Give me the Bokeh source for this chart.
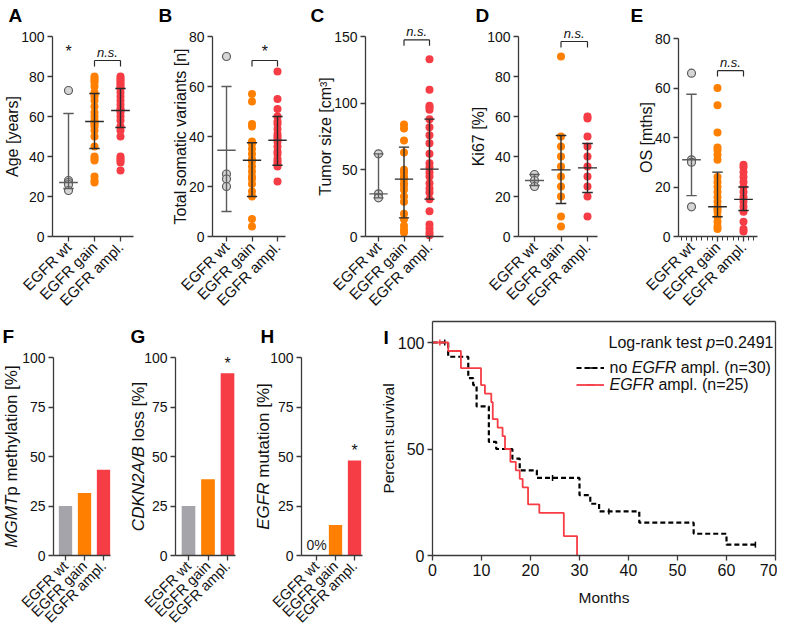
import math
from bokeh.plotting import figure
from bokeh.layouts import row, column
from bokeh.models import Range1d, FixedTicker, Label, Legend, LegendItem, LinearAxis
from bokeh.embed import file_html
from bokeh.resources import INLINE

FONT = "Liberation Sans"
GROUP_LABELS = ["EGFR wt", "EGFR gain", "EGFR ampl."]
CATS = [1, 2, 3]

C_WT_FILL = "#d6d6d6"
C_WT_LINE = "#5c5c5c"
C_GAIN = "#ff8000"
C_AMPL = "#f63c44"
C_BAR_WT = "#a4a4aa"
C_AX = "#3a3a3a"
C_TXT = "#111111"

# ---------------- data ----------------
# A: age
age_wt = [73, 28, 27, 26, 23]
age_gain = [80, 79, 78, 77, 75, 72, 71, 70, 68, 65, 62, 60, 58, 57, 56, 55, 53, 50, 45, 40, 39, 38, 30, 28, 27]
age_ampl = [80, 79, 78, 77, 76, 75, 74, 72, 70, 68, 66, 64, 63, 62, 60, 58, 55, 53, 50, 40, 39, 38, 37, 33]
age_mid = [27, 57.5, 63]
age_lo = [24, 44, 54.5]
age_hi = [61.5, 71.5, 74]

# B: total somatic variants
var_wt = [72, 25, 23, 20]
var_gain = [57, 54, 45, 44, 38, 37, 35, 33, 31, 30, 28, 26, 24, 23, 21, 18, 16, 7, 4]
var_ampl = [66, 55, 51, 48, 46, 45, 43, 41, 40, 39, 38, 36, 34, 33, 31, 30, 29, 28, 22]
var_mid = [34.5, 30.5, 38.5]
var_lo = [10, 16, 28.5]
var_hi = [60, 37.5, 48]

# C: tumor size
size_wt = [62, 32, 29]
size_gain = [84, 81, 72, 63, 50, 48, 45, 43, 40, 38, 35, 30, 26, 17, 13, 8, 5, 3]
size_ampl = [133, 110, 98, 97, 95, 88, 82, 76, 70, 62, 55, 52, 48, 45, 40, 36, 33, 28, 19, 9, 6, 3, 1]
size_mid = [32, 43, 50.5]
size_lo = [29, 14, 28]
size_hi = [62, 67, 88]

# D: Ki67
ki_wt = [31, 28, 25]
ki_gain = [90, 50, 45, 40, 35, 30, 25, 20, 10, 5]
ki_ampl = [60, 59, 50, 45, 40, 35, 30, 25, 20, 10]
ki_mid = [28, 33.3, 34.3]
ki_lo = [25.5, 16.5, 22]
ki_hi = [31, 50.5, 46.5]

# E: OS
os_wt = [66, 31, 30, 12]
os_gain = [60, 53, 42, 36, 35, 33, 31, 24, 22, 20, 18, 16, 14, 12, 11, 10, 8, 6, 4, 3]
os_ampl = [29, 28, 26, 24, 22, 20, 18, 16, 14, 12, 10, 6, 3, 2]
os_mid = [31, 12, 15]
os_lo = [16.5, 8, 10.5]
os_hi = [57.5, 26, 20]

# F-H: percentages
mgmt_pct = [25, 31.6, 43.3]
cdkn_pct = [25, 38.5, 92]
mut_pct = [0, 15.4, 48]

# I: Kaplan-Meier (months, percent survival)
no_ampl_t = [0, 3.2, 7.3, 8.3, 9.0, 11.5, 13.0, 16.3, 17.8, 21.3, 30.0, 32.2, 34.0, 42.2, 53.3, 60.0, 65.9]
no_ampl_s = [100, 93.3, 83.3, 80.0, 70.0, 53.3, 50.0, 45.5, 40.0, 36.4, 28.3, 24.3, 20.7, 15.4, 10.2, 5.1, 5.1]
no_ampl_cens_t = [2.5, 24.5, 36.0, 65.9]
no_ampl_cens_s = [100, 36.4, 20.7, 5.1]
ampl_t = [0, 3.2, 5.8, 9.9, 10.7, 12.0, 12.3, 13.3, 14.3, 14.8, 15.9, 17.0, 17.8, 18.4, 19.5, 21.8, 26.8, 29.5]
ampl_s = [100, 96, 88, 80, 76, 72, 64, 60, 56, 50, 44, 40, 36, 32, 24, 20, 9.1, 0]
ampl_cens_t = [1.5]
ampl_cens_s = [100]

# texts with italic gene names: (text, italic?)
F_YLABEL = [("MGMT", True), ("p methylation [%]", False)]
G_YLABEL = [("CDKN2A/B", True), (" loss [%]", False)]
H_YLABEL = [("EGFR", True), (" mutation [%]", False)]
LEG1 = [("no ", False), ("EGFR", True), (" ampl. (n=30)", False)]
LEG2 = [("EGFR", True), (" ampl. (n=25)", False)]
LOGRANK = [("Log-rank test ", False), ("p", True), ("=0.2491", False)]

TOP_H = 318
BOT_H = 308

# Arial / Liberation Sans advance widths (per 1000 em)
ADV = {" ": 278, "%": 889, "(": 333, ")": 333, "-": 333, ".": 278, "/": 278, "=": 584, "[": 278, "]": 278,
       "A": 667, "B": 667, "C": 722, "D": 722, "E": 667, "F": 611, "G": 778, "K": 667, "L": 556,
       "M": 833, "N": 722, "R": 722, "T": 611,
       "a": 556, "c": 500, "e": 556, "g": 556, "h": 556, "i": 222, "k": 500, "l": 222, "m": 833,
       "n": 556, "o": 556, "p": 556, "r": 333, "s": 500, "t": 278, "u": 556, "y": 500}


def text_w(s, size):
    return sum(ADV.get(c, 556) for c in s) / 1000.0 * size


def make_fig(W, H, xs, xe, ys, ye):
    p = figure(width=W, height=H, x_range=Range1d(xs, xe), y_range=Range1d(ys, ye),
               output_backend="svg", toolbar_location=None,
               min_border_left=0, min_border_right=0, min_border_top=0, min_border_bottom=0)
    p.outline_line_color = None
    p.grid.visible = False
    p.background_fill_color = None
    p.border_fill_color = None
    return p


def style_axis(ax, tick_size, label_size):
    ax.axis_line_color = C_AX
    ax.axis_line_width = 1.3
    ax.major_tick_line_color = C_AX
    ax.major_tick_line_width = 1.3
    ax.major_tick_out = 5
    ax.major_tick_in = 0
    ax.minor_tick_line_color = None
    ax.major_label_text_font = FONT
    ax.major_label_text_color = C_TXT
    ax.major_label_text_font_size = tick_size
    ax.axis_label_text_font = FONT
    ax.axis_label_text_font_style = "normal"
    ax.axis_label_text_color = C_TXT
    ax.axis_label_text_font_size = label_size
    ax.major_label_standoff = 3
    ax.axis_label_standoff = 4


def cat_xaxis(p, minor=False):
    if minor:
        p.xaxis.ticker = FixedTicker(ticks=CATS, minor_ticks=[0.6 + 0.2 * i for i in range(15)])
        p.xaxis.minor_tick_line_color = C_AX
        p.xaxis.minor_tick_out = 4
        p.xaxis.minor_tick_in = 0
    else:
        p.xaxis.ticker = FixedTicker(ticks=CATS)
    p.xaxis.major_label_overrides = {c: g for c, g in zip(CATS, GROUP_LABELS)}
    p.xaxis.major_label_orientation = math.pi / 4


def mixed_text(p, x, y, x_off, y_off, pieces, size, vertical=False, center=True):
    """Draw a run of text pieces (some italic) one after another."""
    total = sum(text_w(t, size) for t, _ in pieces)
    pos = -total / 2.0 if center else 0.0
    for t, ital in pieces:
        lead = len(t) - len(t.lstrip(" "))
        core = t.strip(" ")
        if core:
            shift = pos + text_w(" " * lead, size)
            kw = dict(x=x, y=y, text=core, text_font=FONT, text_font_size=f"{size}px",
                      text_font_style="italic" if ital else "normal", text_color=C_TXT,
                      text_align="left", text_baseline="middle")
            if vertical:
                kw.update(angle=math.pi / 2, x_offset=x_off, y_offset=y_off + shift)
            else:
                kw.update(x_offset=x_off + shift, y_offset=y_off)
            p.add_layout(Label(**kw))
        pos += text_w(t, size)


def letter(p, text, lx, ly):
    p.add_layout(Label(x=p.x_range.start, y=p.y_range.end, x_offset=lx, y_offset=-ly, text=text,
                       text_font=FONT, text_font_style="bold", text_font_size="19px",
                       text_baseline="top", text_align="left", text_color="#000000"))


def sig_label(p, x, y, text, italic):
    p.add_layout(Label(x=x, y=y, y_offset=1, text=text, text_font=FONT,
                       text_font_style="italic" if italic else "normal",
                       text_font_size="13px" if italic else "16px",
                       text_align="center", text_baseline="bottom", text_color=C_TXT))


def scatter_panel(let, let_x, ylabel, wt, gain, ampl, mid, lo, hi, ymax, ystep,
                  W, axis_px, cat1_px, sp, end_px, ytop_px, bracket, sig, wt_star=None, minor=False):
    H = TOP_H
    y0_px = 236
    sy = (y0_px - ytop_px) / ymax
    xs = 1 - cat1_px / sp
    xe = xs + W / sp
    ye = y0_px / sy
    ys = -(H - y0_px) / sy
    ax_x = 1 - (cat1_px - axis_px) / sp
    ax_end = 1 + (end_px - cat1_px) / sp
    p = make_fig(W, H, xs, xe, ys, ye)
    for ax in p.axis:
        style_axis(ax, "14px", "16px")
    p.xaxis.major_label_text_font_size = "15px"
    p.yaxis.axis_label_standoff = -3
    cat_xaxis(p, minor)
    p.yaxis.ticker = FixedTicker(ticks=list(range(0, ymax + 1, ystep)))
    p.yaxis.axis_label = ylabel
    p.yaxis.fixed_location = ax_x
    p.yaxis.bounds = (0, ymax)
    p.xaxis.fixed_location = 0
    p.xaxis.bounds = (ax_x, ax_end)

    p.scatter(x=[1] * len(wt), y=wt, size=8, fill_color=C_WT_FILL, line_color=C_WT_LINE, line_width=1.2)
    p.scatter(x=[2] * len(gain), y=gain, size=8, fill_color=C_GAIN, line_color=None)
    p.scatter(x=[3] * len(ampl), y=ampl, size=8, fill_color=C_AMPL, line_color=None)

    cols = [C_WT_LINE, "#2a2a2a", "#2a2a2a"]
    p.segment(x0=CATS, y0=lo, x1=CATS, y1=hi, line_color=cols, line_width=1.4)
    p.segment(x0=[c - 0.2 for c in CATS], y0=lo, x1=[c + 0.2 for c in CATS], y1=lo, line_color=cols, line_width=1.4)
    p.segment(x0=[c - 0.2 for c in CATS], y0=hi, x1=[c + 0.2 for c in CATS], y1=hi, line_color=cols, line_width=1.4)
    p.segment(x0=[c - 0.36 for c in CATS], y0=mid, x1=[c + 0.36 for c in CATS], y1=mid, line_color=cols, line_width=1.4)

    d = ymax * 0.03
    p.segment(x0=[2, 2, 3], y0=[bracket, bracket, bracket], x1=[3, 2, 3], y1=[bracket, bracket - d, bracket - d],
              line_color="#2a2a2a", line_width=1.2)
    sig_label(p, 2.5, bracket, sig, sig == "n.s.")
    if wt_star is not None:
        sig_label(p, 1, wt_star, "*", False)
    letter(p, let, let_x, 4)
    return p


def bar_panel(let, let_x, ylabel_pieces, label_dx, vals, W, axis_px, cat1_px, sp, end_px,
              star=None, zero_text=None):
    H = BOT_H
    y0_px = 237
    ytop_px = 39
    sy = (y0_px - ytop_px) / 100.0
    xs = 1 - cat1_px / sp
    xe = xs + W / sp
    ye = y0_px / sy
    ys = -(H - y0_px) / sy
    ax_x = 1 - (cat1_px - axis_px) / sp
    ax_end = 1 + (end_px - cat1_px) / sp
    p = make_fig(W, H, xs, xe, ys, ye)
    for ax in p.axis:
        style_axis(ax, "14px", "17px")
    p.xaxis.major_label_text_font_size = "14.5px"
    cat_xaxis(p)
    p.yaxis.ticker = FixedTicker(ticks=[0, 25, 50, 75, 100])
    p.yaxis.fixed_location = ax_x
    p.yaxis.bounds = (0, 100)
    p.xaxis.fixed_location = 0
    p.xaxis.bounds = (ax_x, ax_end)
    p.vbar(x=CATS, top=vals, width=0.7, fill_color=[C_BAR_WT, C_GAIN, C_AMPL], line_color=None)
    mixed_text(p, ax_x, 50, label_dx, 0, ylabel_pieces, 17, vertical=True)
    if star is not None:
        sig_label(p, 3, vals[2], "*", False)
    if zero_text is not None:
        p.add_layout(Label(x=1, y=vals[0], y_offset=3, text=zero_text, text_font=FONT,
                           text_font_size="14px", text_align="center", text_baseline="bottom",
                           text_color="#222222"))
    letter(p, let, let_x, 7)
    return p


pA = scatter_panel("A", 8, "Age [years]", age_wt, age_gain, age_ampl, age_mid, age_lo, age_hi,
                   100, 20, 158, 52, 68, 26, 133, 36, 88, "n.s.", wt_star=88)
pB = scatter_panel("B", 0, "Total somatic variants [n]", var_wt, var_gain, var_ampl, var_mid, var_lo, var_hi,
                   80, 20, 147, 54, 68, 25.5, 127, 36, 70.4, "*")
pC = scatter_panel("C", 5, "Tumor size [cm³]", size_wt, size_gain, size_ampl, size_mid, size_lo, size_hi,
                   150, 50, 150, 60, 73, 25.5, 138, 36, 147.5, "n.s.")
pD = scatter_panel("D", 20, "Ki67 [%]", ki_wt, ki_gain, ki_ampl, ki_mid, ki_lo, ki_hi,
                   100, 20, 158, 63, 79, 26.5, 142, 36, 97.5, "n.s.")
pE = scatter_panel("E", 17, "OS [mths]", os_wt, os_gain, os_ampl, os_mid, os_lo, os_hi,
                   80, 20, 164, 65, 78, 26, 144, 38, 67, "n.s.", minor=True)

pF = bar_panel("F", 2, F_YLABEL, -42, mgmt_pct, 125, 53, 65, 19, 110)
pG = bar_panel("G", 5, G_YLABEL, -37, cdkn_pct, 126, 50, 63, 19.5, 110, star=True)
pH = bar_panel("H", 9, H_YLABEL, -38, mut_pct, 122, 50, 65, 19, 111, star=True, zero_text="0%")

# ---------------- I: survival ----------------
WI = 404
HI = BOT_H
x0_px, x70_px = 59, 402
y0_px, y100_px = 237, 24
sxI = (x70_px - x0_px) / 70.0
syI = (y0_px - y100_px) / 100.0
pI = make_fig(WI, HI, -x0_px / sxI, (WI - x0_px) / sxI, -(HI - y0_px) / syI, y0_px / syI)
for ax in pI.axis:
    style_axis(ax, "16px", "15.5px")
pI.xaxis.ticker = FixedTicker(ticks=list(range(0, 71, 10)))
pI.yaxis.ticker = FixedTicker(ticks=[0, 50, 100])
pI.xaxis.axis_label = "Months"
pI.yaxis.axis_label = "Percent survival"
pI.xaxis.axis_label_standoff = 10
pI.yaxis.axis_label_standoff = -2
pI.xaxis.fixed_location = 0
pI.xaxis.bounds = (0, 70)
pI.yaxis.fixed_location = 0
pI.yaxis.bounds = (0, 110)
top_ax = LinearAxis(ticker=FixedTicker(ticks=[]), fixed_location=110, bounds=(0, 70),
                    axis_line_color=C_AX, axis_line_width=1.3, major_tick_line_color=None,
                    minor_tick_line_color=None, major_label_text_font_size="0px")
right_ax = LinearAxis(ticker=FixedTicker(ticks=[]), fixed_location=70, bounds=(0, 110),
                      axis_line_color=C_AX, axis_line_width=1.3, major_tick_line_color=None,
                      minor_tick_line_color=None, major_label_text_font_size="0px")
pI.add_layout(top_ax, "above")
pI.add_layout(right_ax, "right")

r1 = pI.step(no_ampl_t, no_ampl_s, mode="after", line_color="#000000", line_width=2.2, line_dash="5 3")
c1 = pI.scatter(no_ampl_cens_t, no_ampl_cens_s, marker="dash", angle=math.pi / 2, size=6,
                line_color="#000000", line_width=1.5)
r2 = pI.step(ampl_t, ampl_s, mode="after", line_color=C_AMPL, line_width=1.8)
c2 = pI.scatter(ampl_cens_t, ampl_cens_s, marker="dash", angle=math.pi / 2, size=6,
                line_color=C_AMPL, line_width=1.5)
LEG_X = 203
LEG_TOP = 40.5
leg = Legend(items=[LegendItem(label=" ", renderers=[r1, c1]),
                    LegendItem(label=" ", renderers=[r2, c2])],
             location=(LEG_X, HI - LEG_TOP - 34))
leg.background_fill_alpha = 0
leg.border_line_color = None
leg.label_text_font = FONT
leg.label_text_font_size = "16px"
leg.glyph_width = 28
leg.glyph_height = 17
leg.label_height = 17
leg.label_standoff = 5
leg.spacing = 0
leg.padding = 0
leg.margin = 0
pI.add_layout(leg)

xs_I = pI.x_range.start
ye_I = pI.y_range.end
lab_x = LEG_X + 28 + 5
mixed_text(pI, xs_I, ye_I, lab_x, -(LEG_TOP + 8.5), LEG1, 16, center=False)
mixed_text(pI, xs_I, ye_I, lab_x, -(LEG_TOP + 25.5), LEG2, 16, center=False)
lr_w = sum(text_w(t, 16) for t, _ in LOGRANK)
mixed_text(pI, xs_I, ye_I, x70_px - 2 - lr_w, -24, LOGRANK, 16, center=False)
letter(pI, "I", 10, 8)

layout = column(row(pA, pB, pC, pD, pE), row(pF, pG, pH, pI))
open("out.html", "w").write(file_html(layout, INLINE))
